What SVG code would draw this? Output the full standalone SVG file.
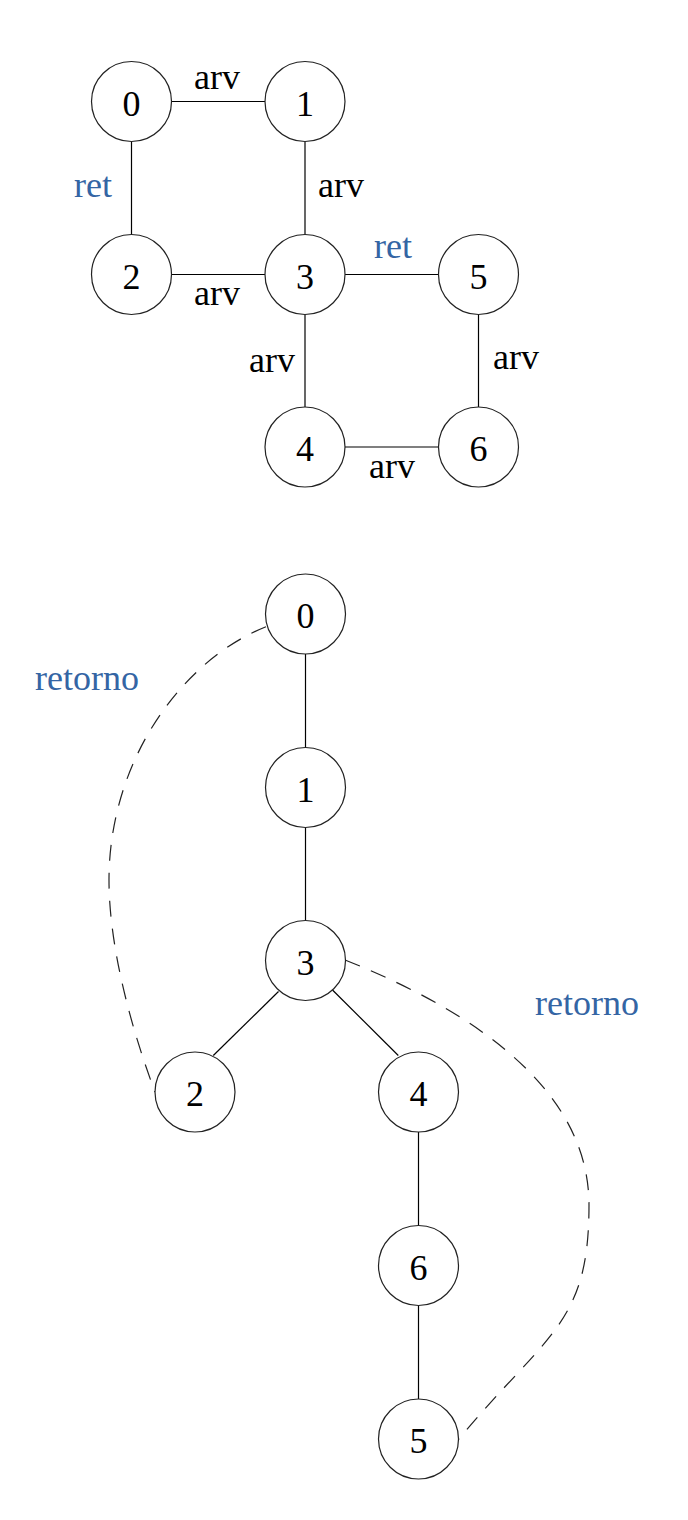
<svg xmlns="http://www.w3.org/2000/svg" width="688" height="1520" viewBox="0 0 688 1520">
<style>
.node circle{fill:#fff;stroke:#222;stroke-width:1.2}
.node text{font-family:"Liberation Serif",serif;font-size:36px;fill:#000;text-anchor:middle}
.edge{stroke:#000;stroke-width:1.2;fill:none}
.dash{stroke:#222;stroke-width:1.2;fill:none;stroke-dasharray:16 12}
.lbl{font-family:"Liberation Serif",serif;font-size:36px;fill:#000;text-anchor:middle}
.blue{fill:#3465a4}
</style>
<rect width="688" height="1520" fill="#fff"/>
<g id="connectors">
<line class="edge" x1="171.5" y1="101.5" x2="265" y2="101.5"/>
<line class="edge" x1="131.5" y1="141.5" x2="131.5" y2="234.5"/>
<line class="edge" x1="305" y1="141.5" x2="305" y2="234.5"/>
<line class="edge" x1="171.5" y1="274.5" x2="265" y2="274.5"/>
<line class="edge" x1="345" y1="274.5" x2="438.5" y2="274.5"/>
<line class="edge" x1="305" y1="314.5" x2="305" y2="407"/>
<line class="edge" x1="478.5" y1="314.5" x2="478.5" y2="407"/>
<line class="edge" x1="345" y1="447" x2="438.5" y2="447"/>
<line class="edge" x1="305.5" y1="654" x2="305.5" y2="747.5"/>
<line class="edge" x1="305.5" y1="827.5" x2="305.5" y2="920.5"/>
<line class="edge" x1="278.5" y1="991.5" x2="213.3" y2="1055.5"/>
<line class="edge" x1="332.5" y1="990" x2="398.3" y2="1055.5"/>
<line class="edge" x1="418.5" y1="1132" x2="418.5" y2="1225.5"/>
<line class="edge" x1="418.5" y1="1305.5" x2="418.5" y2="1399"/>
<path class="dash" d="M266,626.7 C182.3,660 109,760 109,880 C109,940 127,1016.8 155,1092"/>
<path class="dash" d="M345,960 C484.5,1015.5 589,1095 589,1205 C589,1325 547.6,1332.2 458,1440"/>
<text class="lbl" x="217" y="89">arv</text>
<text class="lbl blue" x="93" y="197">ret</text>
<text class="lbl" x="341" y="197">arv</text>
<text class="lbl" x="217" y="305">arv</text>
<text class="lbl blue" x="393" y="258">ret</text>
<text class="lbl" x="272" y="372">arv</text>
<text class="lbl" x="516" y="369">arv</text>
<text class="lbl" x="392" y="478">arv</text>
<text class="lbl blue" x="35" y="690" style="text-anchor:start">retorno</text>
<text class="lbl blue" x="535" y="1015" style="text-anchor:start">retorno</text>
</g>
<g id="t0" class="node"><circle cx="131.5" cy="101.5" r="40"/><text x="131.5" y="115.5">0</text></g>
<g id="t1" class="node"><circle cx="305" cy="101.5" r="40"/><text x="305" y="115.5">1</text></g>
<g id="t2" class="node"><circle cx="131.5" cy="274.5" r="40"/><text x="131.5" y="288.5">2</text></g>
<g id="t3" class="node"><circle cx="305" cy="274.5" r="40"/><text x="305" y="288.5">3</text></g>
<g id="t5" class="node"><circle cx="478.5" cy="274.5" r="40"/><text x="478.5" y="288.5">5</text></g>
<g id="t4" class="node"><circle cx="305" cy="447" r="40"/><text x="305" y="461">4</text></g>
<g id="t6" class="node"><circle cx="478.5" cy="447" r="40"/><text x="478.5" y="461">6</text></g>
<g id="b0" class="node"><circle cx="305.5" cy="614" r="40"/><text x="305.5" y="628">0</text></g>
<g id="b1" class="node"><circle cx="305.5" cy="787.5" r="40"/><text x="305.5" y="801.5">1</text></g>
<g id="b3" class="node"><circle cx="305.5" cy="960.5" r="40"/><text x="305.5" y="974.5">3</text></g>
<g id="b2" class="node"><circle cx="195" cy="1092" r="40"/><text x="195" y="1106">2</text></g>
<g id="b4" class="node"><circle cx="418.5" cy="1092" r="40"/><text x="418.5" y="1106">4</text></g>
<g id="b6" class="node"><circle cx="418.5" cy="1265.5" r="40"/><text x="418.5" y="1279.5">6</text></g>
<g id="b5" class="node"><circle cx="418.5" cy="1439" r="40"/><text x="418.5" y="1453">5</text></g>
</svg>
